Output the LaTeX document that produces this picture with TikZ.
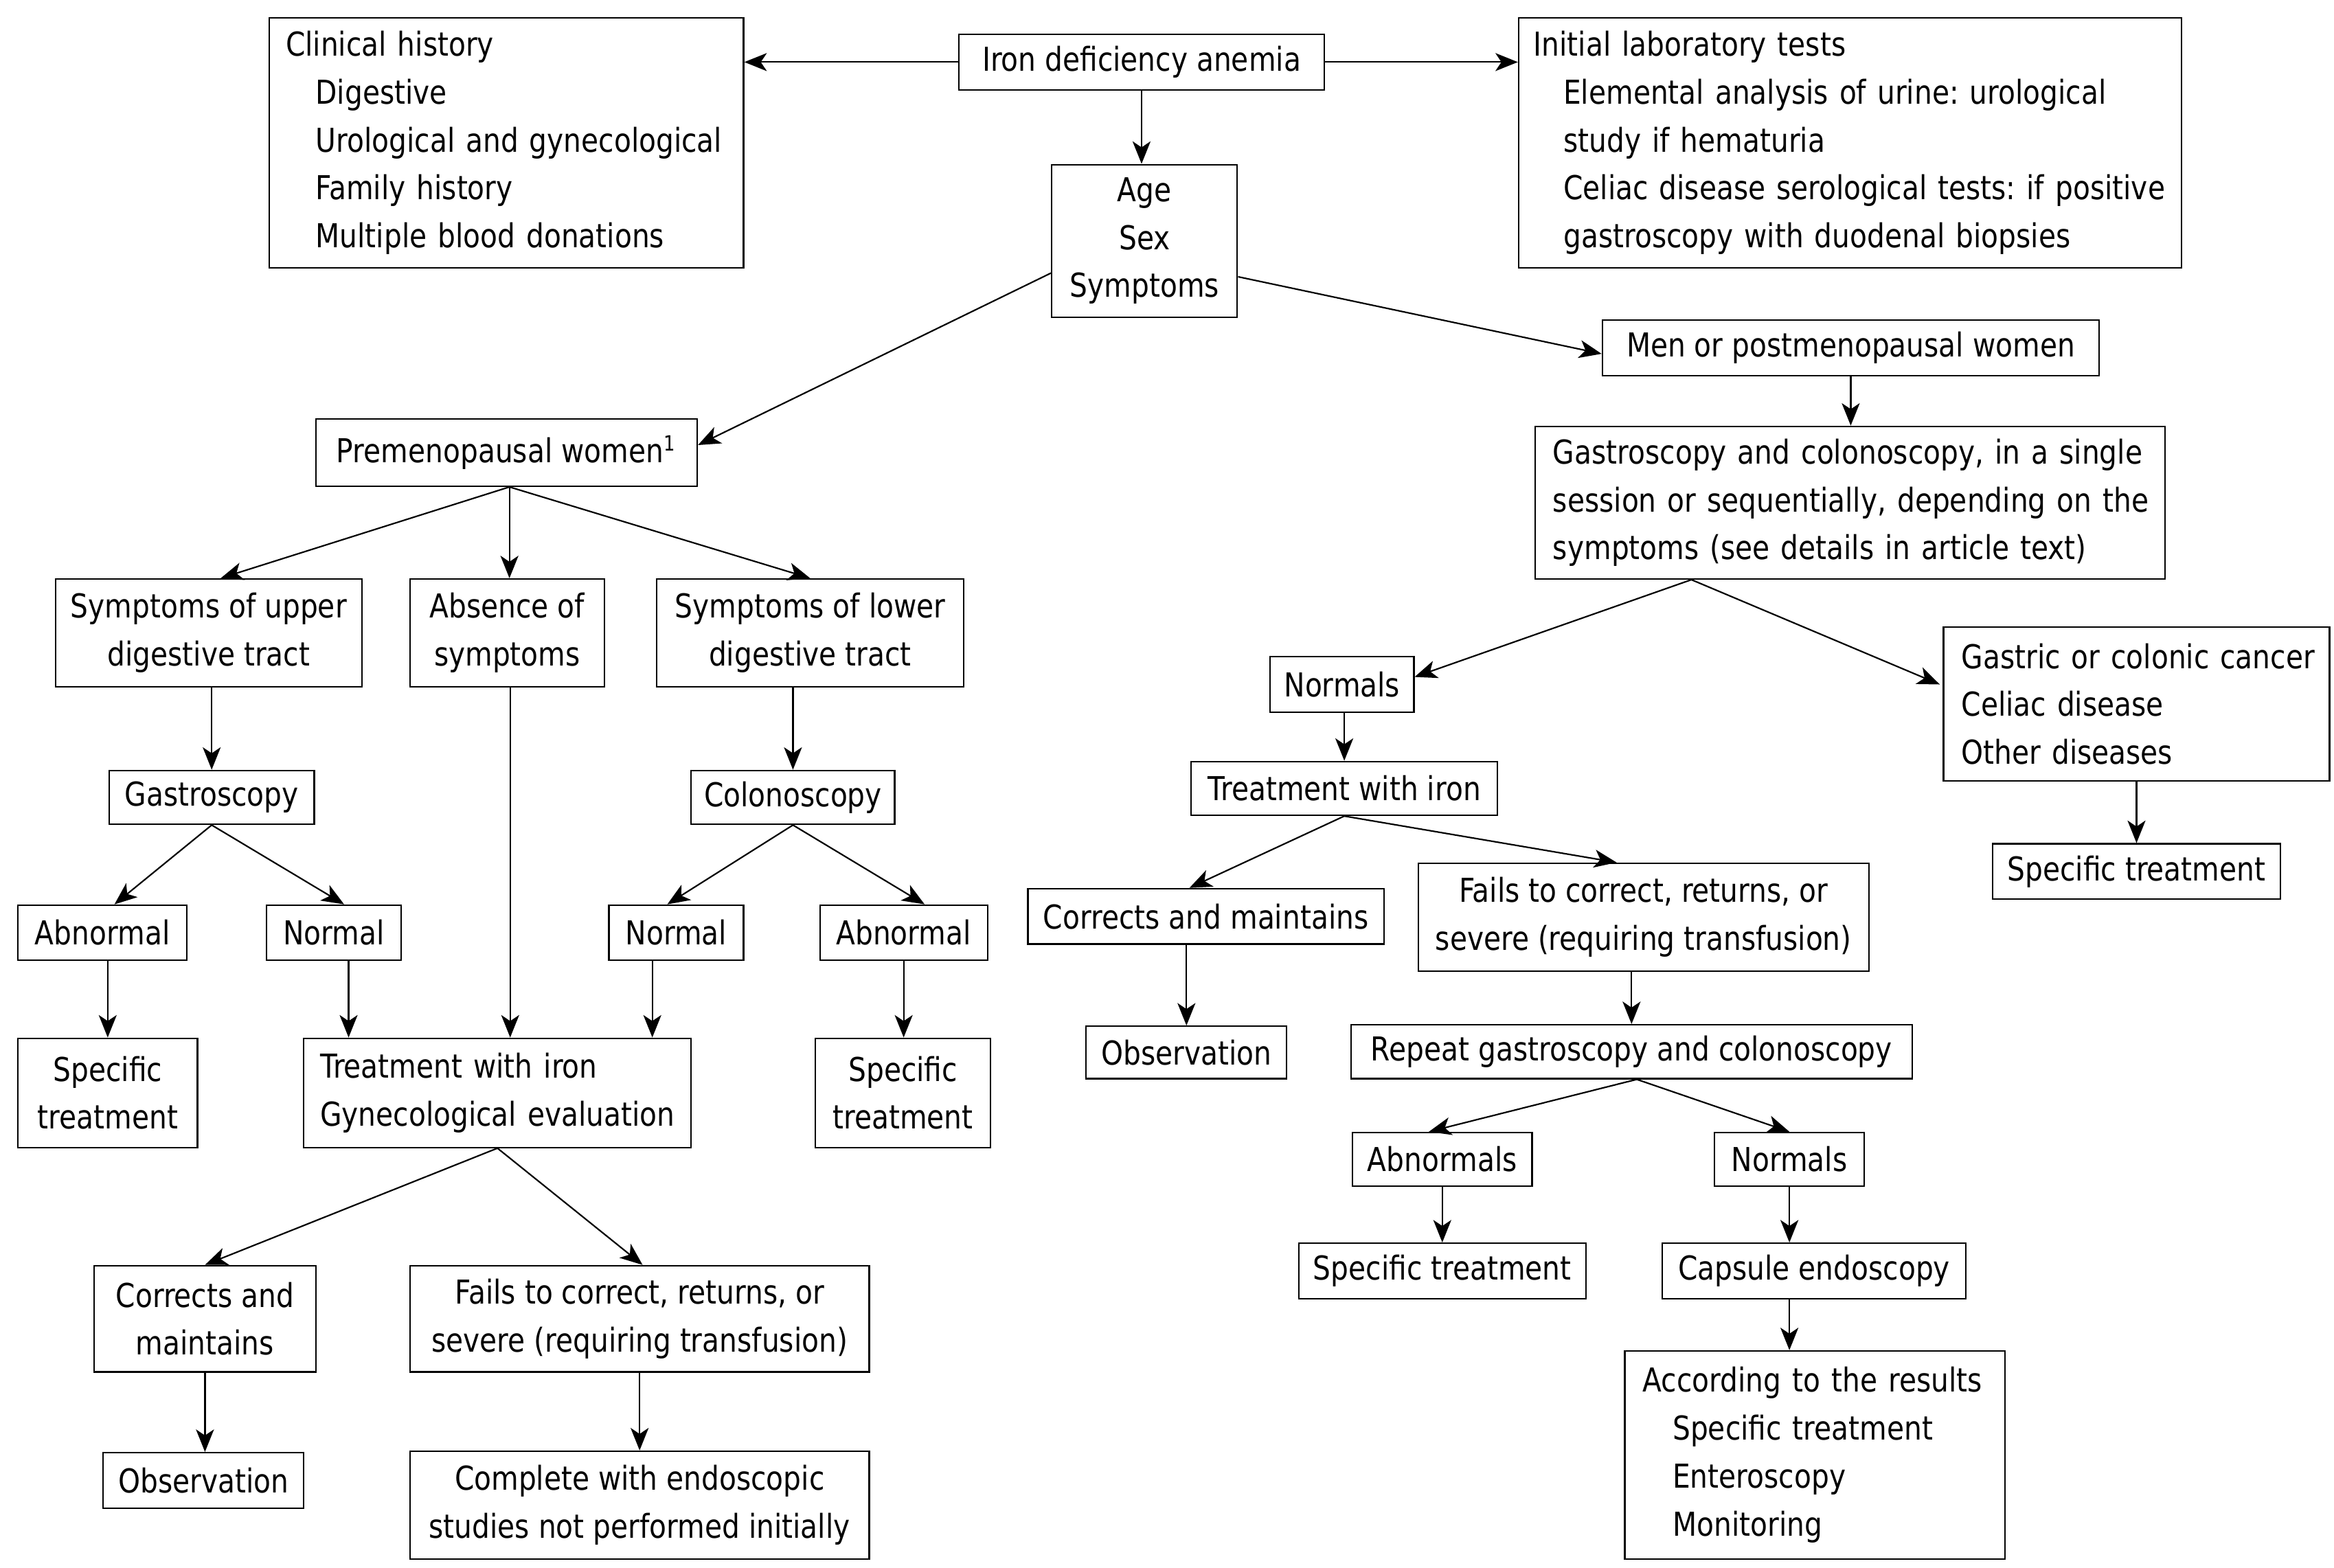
\documentclass[tikz,border=0pt]{standalone}
\usepackage{fontspec}
\setmainfont{DejaVu Sans}[FakeStretch=0.85]
\usetikzlibrary{arrows.meta}
\frenchspacing
\newcommand\dfont{\fontsize{11pt}{16pt}\selectfont\frenchspacing}
\newcommand\ind{\hspace*{10pt}}
\begin{document}
\begin{tikzpicture}[x=0.5pt,y=-0.5pt,
  bx/.style={draw, line width=0.5pt, inner sep=0pt, align=center, font=\dfont},
  lbx/.style={bx, align=left},
  arr/.style={-{Stealth[length=7.5pt,width=6pt,inset=2pt]}, line width=0.5pt}]
\useasboundingbox (0,0) rectangle (1560,1048);
% top
\node[bx, minimum width=122pt, minimum height=18.5pt] (iron) at (763,41.5) {Iron deficiency anemia};
\node[lbx, minimum width=158.5pt, minimum height=83.5pt, text width=147.5pt, inner xsep=5.5pt] (clin) at (338.5,95.5)
  {\mbox{Clinical history}\\\mbox{\ind Digestive}\\\mbox{\ind Urological and gynecological}\\\mbox{\ind Family history}\\\mbox{\ind Multiple blood donations}};
\node[lbx, minimum width=221.5pt, minimum height=83.5pt, text width=211.5pt, inner xsep=5pt] (lab) at (1236.5,95.5)
  {\mbox{Initial laboratory tests}\\\mbox{\ind Elemental analysis of urine: urological}\\\mbox{\ind study if hematuria}\\\mbox{\ind Celiac disease serological tests: if positive}\\\mbox{\ind gastroscopy with duodenal biopsies}};
\node[bx, minimum width=62pt, minimum height=51pt] (age) at (765,161) {Age\\Sex\\Symptoms};
\node[bx, minimum width=166pt, minimum height=18.5pt] (men) at (1237,232.5) {Men or postmenopausal women};
\node[lbx, minimum width=210.5pt, minimum height=51pt, text width=198.5pt, inner xsep=6pt] (gc) at (1236.5,336)
  {\mbox{Gastroscopy and colonoscopy, in a single}\\\mbox{session or sequentially, depending on the}\\\mbox{symptoms (see details in article text)}};
% left branch
\node[bx, minimum width=127.5pt, minimum height=22.5pt] (pre) at (338.5,302.5) {Premenopausal women\textsuperscript{\fontsize{7pt}{8pt}\selectfont 1}};
\node[bx, minimum width=102.5pt, minimum height=36pt] (up) at (139.5,423) {Symptoms of upper\\digestive tract};
\node[bx, minimum width=65pt, minimum height=36pt] (abs) at (339,423) {Absence of\\symptoms};
\node[bx, minimum width=102.5pt, minimum height=36pt] (low) at (541.5,423) {Symptoms of lower\\digestive tract};
\node[bx, minimum width=68.5pt, minimum height=18pt] (gas) at (141.5,533) {Gastroscopy};
\node[bx, minimum width=68pt, minimum height=18pt] (col) at (530,533) {Colonoscopy};
\node[bx, minimum width=56.5pt, minimum height=18.5pt] (abL) at (68.5,623.5) {Abnormal};
\node[bx, minimum width=45pt, minimum height=18.5pt] (noL) at (223,623.5) {Normal};
\node[bx, minimum width=45pt, minimum height=18.5pt] (noM) at (452,623.5) {Normal};
\node[bx, minimum width=56pt, minimum height=18.5pt] (abR) at (604,623.5) {Abnormal};
\node[bx, minimum width=60pt, minimum height=36.5pt] (stL) at (72,730.5) {Specific\\treatment};
\node[lbx, minimum width=129.5pt, minimum height=36.5pt, text width=118.5pt, inner xsep=5.5pt] (trt) at (332.5,730.5) {\mbox{Treatment with iron}\\\mbox{Gynecological evaluation}};
\node[bx, minimum width=58.5pt, minimum height=36.5pt] (stR) at (603.5,730.5) {Specific\\treatment};
\node[bx, minimum width=74pt, minimum height=35.5pt] (corL) at (137,881.5) {Corrects and\\maintains};
\node[bx, minimum width=153.5pt, minimum height=35.5pt] (failL) at (427.5,881.5) {Fails to correct, returns, or\\severe (requiring transfusion)};
\node[bx, minimum width=67pt, minimum height=18.5pt] (obsL) at (136,989.5) {Observation};
\node[bx, minimum width=153.5pt, minimum height=36pt] (comp) at (427.5,1006) {Complete with endoscopic\\studies not performed initially};
% right branch
\node[bx, minimum width=48pt, minimum height=18.5pt] (norR) at (897,457.5) {Normals};
\node[lbx, minimum width=129pt, minimum height=51.5pt, text width=117pt, inner xsep=6pt] (canc) at (1428,470.5) {\mbox{Gastric or colonic cancer}\\\mbox{Celiac disease}\\\mbox{Other diseases}};
\node[bx, minimum width=102.5pt, minimum height=18pt] (trR) at (898.5,527) {Treatment with iron};
\node[bx, minimum width=96pt, minimum height=18.5pt] (spT) at (1428,582.5) {Specific treatment};
\node[bx, minimum width=119pt, minimum height=18.5pt] (corR) at (806,612.5) {Corrects and maintains};
\node[bx, minimum width=150.5pt, minimum height=36pt] (failR) at (1098.5,613) {Fails to correct, returns, or\\severe (requiring transfusion)};
\node[bx, minimum width=67pt, minimum height=17.5pt] (obsR) at (793,703.5) {Observation};
\node[bx, minimum width=187.5pt, minimum height=18pt] (rep) at (1090.5,703) {Repeat gastroscopy and colonoscopy};
\node[bx, minimum width=60pt, minimum height=18pt] (abs2) at (964,775) {Abnormals};
\node[bx, minimum width=50pt, minimum height=18pt] (nor2) at (1196,775) {Normals};
\node[bx, minimum width=96pt, minimum height=18.5pt] (sp2) at (964,849.5) {Specific treatment};
\node[bx, minimum width=101.5pt, minimum height=18.5pt] (cap) at (1212.5,849.5) {Capsule endoscopy};
\node[lbx, minimum width=127pt, minimum height=69.5pt, text width=115pt, inner xsep=6pt] (acc) at (1213,972.5)
  {\mbox{According to the results}\\\mbox{\ind Specific treatment}\\\mbox{\ind Enteroscopy}\\\mbox{\ind Monitoring}};
% connectors
\draw[arr] (iron.west) -- (iron.west -| clin.east);
\draw[arr] (iron.east) -- (iron.east -| lab.west);
\draw[arr] (iron.south) -- (iron.south |- age.north);
\draw[arr] ([yshift=15pt]age.south west) -- ([yshift=2.5pt]pre.east);
\draw[arr] ([yshift=-12pt]age.east) -- ([yshift=-2pt]men.west);
\draw[arr] (men.south) -- (men.south |- gc.north);
\draw[arr] ([xshift=1pt]pre.south) -- ([xshift=4pt]up.north);
\draw[arr] ([xshift=1pt]pre.south) -- ([xshift=1pt]pre.south |- abs.north);
\draw[arr] ([xshift=1pt]pre.south) -- (low.north);
\draw[arr] (gas.north |- up.south) -- (gas.north);
\draw[arr] ([xshift=1pt]abs.south) -- ([xshift=1pt]abs.south |- trt.north);
\draw[arr] (col.north |- low.south) -- (col.north);
\draw[arr] (gas.south) -- ([xshift=4pt]abL.north);
\draw[arr] (gas.south) -- ([xshift=3.5pt]noL.north);
\draw[arr] (col.south) -- ([xshift=-3pt]noM.north);
\draw[arr] (col.south) -- ([xshift=7pt]abR.north);
\draw[arr] (stL.north |- abL.south) -- (stL.north);
\draw[arr] ([xshift=5pt]noL.south) -- ([xshift=5pt]noL.south |- trt.north);
\draw[arr] ([xshift=-8pt]noM.south) -- ([xshift=-8pt]noM.south |- trt.north);
\draw[arr] (abR.south) -- (abR.south |- stR.north);
\draw[arr] (trt.south) -- (corL.north);
\draw[arr] (trt.south) -- ([xshift=1pt]failL.north);
\draw[arr] (corL.south) -- (corL.south |- obsL.north);
\draw[arr] (failL.south) -- (comp.north);
\draw[arr] ([xshift=-53pt]gc.south) -- ([yshift=2.5pt]norR.east);
\draw[arr] ([xshift=-53pt]gc.south) -- ([yshift=6.5pt,xshift=-1pt]canc.west);
\draw[arr] (trR.north |- norR.south) -- (trR.north);
\draw[arr] (canc.south) -- (spT.north);
\draw[arr] (trR.south) -- ([xshift=-5.5pt]corR.north);
\draw[arr] (trR.south) -- ([xshift=-9pt]failR.north);
\draw[arr] (obsR.north |- corR.south) -- (obsR.north);
\draw[arr] (rep.north |- failR.south) -- (rep.north);
\draw[arr] ([xshift=1.75pt]rep.south) -- ([xshift=-4.5pt]abs2.north);
\draw[arr] ([xshift=1.75pt]rep.south) -- (nor2.north);
\draw[arr] (abs2.south) -- (sp2.north);
\draw[arr] (nor2.south) -- (nor2.south |- cap.north);
\draw[arr] (nor2.south |- cap.south) -- (nor2.south |- acc.north);
\end{tikzpicture}
\end{document}
